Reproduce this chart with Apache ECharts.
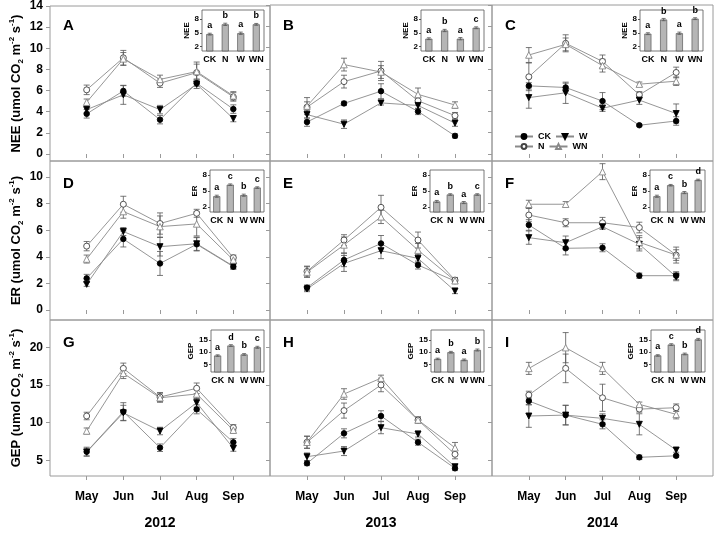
<!DOCTYPE html>
<html><head><meta charset="utf-8">
<script src="https://cdn.jsdelivr.net/npm/echarts@6/dist/echarts.min.js"></script>
<style>html,body{margin:0;padding:0;background:#fff}#c{width:714px;height:533px}</style>
</head><body><div id="c"></div>
<script>
const months = ['May','Jun','Jul','Aug','Sep'];
const years = ['2012','2013','2014'];
const treatments = ['CK','N','W','WN'];
const panelLetters = ['A','B','C','D','E','F','G','H','I'];
const variables = ['NEE','ER','GEP'];
const yTickValues = [[0,2,4,6,8,10,12,14],[0,2,4,6,8,10],[5,10,15,20]];
const insetTickValues = [[2,5,8],[2,5,8],[5,10,15]];

// monthly means, order: CK, N, W, WN
const nee2012 = [[3.8,5.97,3.25,6.7,4.25],[6.07,9.1,6.7,7.7,5.4],[4.2,5.6,4.2,6.6,3.35],[4.9,9.0,7.06,7.8,5.5]];
const nee2012Err = [[0.4,0.5,0.4,0.3,0.4],[0.45,0.7,0.4,1.0,0.4],[0.3,0.9,0.4,0.4,0.3],[0.3,0.6,0.4,0.7,0.4]];
const nee2013 = [[3.0,4.75,5.9,4.0,1.7],[4.4,6.8,7.8,5.0,3.6],[3.7,2.8,4.8,4.56,2.9],[4.5,8.4,7.7,5.6,4.6]];
const nee2013Err = [[0.4,0.2,0.7,0.3,0.2],[0.5,0.6,0.9,0.4,0.3],[0.4,0.4,0.2,0.3,0.3],[0.8,0.6,0.6,0.6,0.3]];
const nee2014 = [[6.4,6.25,4.97,2.7,3.1],[7.25,10.4,8.7,5.56,7.66],[5.3,5.75,4.3,5.06,3.8],[9.3,10.3,8.3,6.56,6.84]];
const nee2014Err = [[0.3,0.4,0.8,0.1,0.4],[1.3,0.8,0.6,0.3,0.5],[1.0,1.0,0.3,0.4,0.9],[0.7,0.6,0.6,0.2,0.4]];

const er2012 = [[2.38,5.34,3.5,4.94,3.26],[4.8,7.95,6.5,7.27,3.93],[1.93,5.9,4.76,4.98,3.3],[3.83,7.4,6.27,6.47,3.76]];
const er2012Err = [[0.3,0.6,0.9,0.5,0.2],[0.35,0.6,0.8,0.3,0.2],[0.15,0.3,0.7,0.5,0.2],[0.3,0.5,0.8,0.9,0.2]];
const er2013 = [[1.68,3.76,5.0,3.38,2.18],[2.9,5.26,7.72,5.26,2.25],[1.58,3.5,4.46,3.88,1.43],[2.85,4.89,7.0,4.5,2.2]];
const er2013Err = [[0.2,0.5,0.6,0.3,0.2],[0.4,0.4,0.9,0.6,0.2],[0.2,0.6,0.6,0.3,0.2],[0.4,0.6,0.5,0.5,0.2]];
const er2014 = [[6.39,4.64,4.68,2.58,2.58],[7.14,6.56,6.56,6.2,4.13],[5.44,5.06,6.26,4.94,2.5],[7.95,7.95,10.4,5.09,4.13]];
const er2014Err = [[0.4,0.5,0.3,0.2,0.3],[0.5,0.3,0.4,0.4,0.6],[0.5,0.5,0.2,0.5,0.3],[0.3,0.2,0.6,0.5,0.4]];

const gep2012 = [[6.14,11.45,6.67,11.77,7.4],[10.88,17.2,13.4,14.56,9.33],[6.1,11.3,8.89,12.65,6.6],[8.89,16.55,13.3,13.8,9.0]];
const gep2012Err = [[0.6,1.2,0.5,0.6,0.5],[0.5,0.7,0.6,0.7,0.4],[0.5,1.0,0.5,0.6,0.4],[0.4,0.7,0.6,0.6,0.4]];
const gep2013 = [[4.6,8.58,10.88,7.4,3.94],[7.4,11.6,15.0,10.35,5.8],[5.48,6.23,9.33,8.49,4.15],[7.4,13.8,15.9,10.35,6.67]];
const gep2013Err = [[0.3,0.6,0.7,0.4,0.3],[0.8,1.0,0.9,0.4,0.6],[0.5,0.6,0.8,0.4,0.3],[0.8,0.7,0.4,0.4,0.7]];
const gep2014 = [[12.87,11.0,9.78,5.4,5.6],[13.67,17.2,13.3,11.8,11.98],[10.88,11.0,10.57,9.78,6.37],[17.2,19.95,17.2,12.43,11.1]];
const gep2014Err = [[0.5,1.3,0.6,0.3,0.2],[0.5,1.9,1.8,0.4,0.5],[1.5,1.3,0.6,1.4,0.3],[0.8,2.0,0.8,0.3,0.6]];

// seasonal means for insets (CK, N, W, WN)
const neeBar2012 = [4.7,6.85,4.9,6.85], neeLetters2012 = ['a','b','a','b'];
const neeBar2013 = [3.7,5.5,3.7,6.1],   neeLetters2013 = ['a','b','a','c'];
const neeBar2014 = [4.8,7.9,4.9,8.1],   neeLetters2014 = ['a','b','a','b'];
const erBar2012 = [4.0,6.2,4.2,5.65],   erLetters2012 = ['a','c','b','c'];
const erBar2013 = [3.0,4.33,2.8,4.33],  erLetters2013 = ['a','b','a','c'];
const erBar2014 = [4.0,6.1,4.7,7.1],    erLetters2014 = ['a','c','b','d'];
const gepBar2012 = [8.65,12.7,9.1,12.0], gepLetters2012 = ['a','d','b','c'];
const gepBar2013 = [7.3,10.0,6.9,10.9],  gepLetters2013 = ['a','b','a','b'];
const gepBar2014 = [8.7,13.1,9.3,15.2],  gepLetters2014 = ['a','c','b','d'];
const neeBarErr = [0.2,0.25,0.25,0.2], erBarErr = [0.2,0.15,0.2,0.15], gepBarErr = [0.3,0.35,0.35,0.4];

const panelMeans = [nee2012,nee2013,nee2014,er2012,er2013,er2014,gep2012,gep2013,gep2014];
const panelErrs = [nee2012Err,nee2013Err,nee2014Err,er2012Err,er2013Err,er2014Err,gep2012Err,gep2013Err,gep2014Err];
const insetBars = [neeBar2012,neeBar2013,neeBar2014,erBar2012,erBar2013,erBar2014,gepBar2012,gepBar2013,gepBar2014];
const insetLetters = [neeLetters2012,neeLetters2013,neeLetters2014,erLetters2012,erLetters2013,erLetters2014,gepLetters2012,gepLetters2013,gepLetters2014];
const insetErrs = [neeBarErr,neeBarErr,neeBarErr,erBarErr,erBarErr,erBarErr,gepBarErr,gepBarErr,gepBarErr];

// ---- layout ----
const FONT = '"Liberation Sans", Arial, sans-serif';
const colLeft = [50, 270, 492], colWidth = [220, 222, 221];
const rowTop = [5, 161, 320], rowHeight = [156, 159, 156];
const yMin = [-0.66, -0.75, 2.92], yMax = [14, 11.2, 23.62];
const insetMin = [1, 1, 2], insetMax = [10, 9, 19];
const insetBoxes = [
  [202,10,62,41],[421,10,63,41],[640,10,63,41],
  [210,170,54,42],[430,170,54,42],[650,170,55,42],
  [211,330,53,42],[431,330,53,42],[651,330,54,42]];
const sty = {
  CK: {symbol:'circle', size:5.5, color:'#000', border:'#000', rotate:0},
  N:  {symbol:'circle', size:6, color:'#fff', border:'#444', rotate:0},
  W:  {symbol:'triangle', size:6, color:'#000', border:'#000', rotate:180},
  WN: {symbol:'triangle', size:6.5, color:'#fff', border:'#888', rotate:0}
};
const frameColor = '#9a9a9a';

function errRender(params, api) {
  const x = api.value(0), y = api.value(1), e = api.value(2);
  const t = api.coord([x, y + e]), b = api.coord([x, y - e]);
  const w = params.seriesName === 'barerr' ? 2 : 3;
  const st = {stroke: '#555', lineWidth: 0.8};
  return {type: 'group', children: [
    {type:'line', shape:{x1:t[0], y1:t[1], x2:b[0], y2:b[1]}, style: st},
    {type:'line', shape:{x1:t[0]-w, y1:t[1], x2:t[0]+w, y2:t[1]}, style: st},
    {type:'line', shape:{x1:b[0]-w, y1:b[1], x2:b[0]+w, y2:b[1]}, style: st}
  ]};
}

const gridMain = [], gridInset = [], xMain = [], xInset = [], yMain = [], yInset = [];
const series = [], graphic = [];
const yName = v => '{m|' + v + ' (umol CO}{sub|2}{m| m}{sup|-2}{m| s}{sup|-1}{m|)}';

for (let r = 0; r < 3; r++) {
  for (let c = 0; c < 3; c++) {
    const i = r * 3 + c;
    gridMain.push({left: colLeft[c], top: rowTop[r], width: colWidth[c], height: rowHeight[r],
      show: true, borderColor: frameColor, borderWidth: 1, containLabel: false});
    xMain.push({type: 'value', gridIndex: i, min: 0, max: 6,
      axisLine: {show: false}, splitLine: {show: false},
      axisTick: {show: true, customValues: [1,2,3,4,5], length: 4, lineStyle: {color: frameColor}},
      axisLabel: {show: r === 2, customValues: [1,2,3,4,5], formatter: v => months[v - 1] || '',
        margin: 15, fontFamily: FONT, fontWeight: 'bold', fontSize: 12, color: '#000'},
      name: r === 2 ? years[c] : '', nameLocation: 'middle', nameGap: 40,
      nameTextStyle: {fontFamily: FONT, fontWeight: 'bold', fontSize: 14, color: '#000'}});
    yMain.push({type: 'value', gridIndex: i, min: yMin[r], max: yMax[r],
      axisLine: {show: false}, splitLine: {show: false},
      axisTick: {show: true, customValues: yTickValues[r], length: 4, lineStyle: {color: frameColor}},
      axisLabel: {show: c === 0, customValues: yTickValues[r], margin: 7,
        fontFamily: FONT, fontWeight: 'bold', fontSize: 12, color: '#000'},
      name: c === 0 ? yName(variables[r]) : '', nameLocation: 'middle', nameGap: 25,
      nameTextStyle: {fontFamily: FONT, fontWeight: 'bold', color: '#000',
        rich: {m: {fontSize: 13, fontWeight: 'bold', fontFamily: FONT, lineHeight: 17, color:'#000'},
               sub: {fontSize: 8, fontWeight: 'bold', fontFamily: FONT, verticalAlign: 'bottom', lineHeight: 9, color:'#000'},
               sup: {fontSize: 8, fontWeight: 'bold', fontFamily: FONT, verticalAlign: 'top', lineHeight: 9, color:'#000'}}}});
    const means = panelMeans[i], errs = panelErrs[i];
    const errData = [];
    treatments.forEach((t, k) => {
      const s = sty[t];
      series.push({type: 'line', name: t, xAxisIndex: i, yAxisIndex: i,
        data: means[k].map((v, m) => [m + 1, v]),
        symbol: s.symbol, symbolSize: s.size, symbolRotate: s.rotate, showAllSymbol: true,
        lineStyle: {color: '#8a8a8a', width: 0.9},
        itemStyle: {color: s.color, borderColor: s.border, borderWidth: 0.9},
        z: 3, animation: false});
      means[k].forEach((v, m) => errData.push([m + 1, v, errs[k][m]]));
    });
    series.push({type: 'custom', name: 'err', xAxisIndex: i, yAxisIndex: i,
      renderItem: errRender, data: errData, z: 2, animation: false, silent: true});

    // inset
    const b = insetBoxes[i], gi = 9 + i;
    gridInset.push({left: b[0], top: b[1], width: b[2], height: b[3], show: true,
      borderColor: '#555', borderWidth: 0.8, backgroundColor: '#fff', z: 5});
    xInset.push({type: 'category', gridIndex: gi, data: treatments, z: 5,
      axisLine: {show: false}, axisTick: {show: false},
      axisLabel: {interval: 0, margin: 4, fontFamily: FONT, fontWeight: 'bold', fontSize: 9, color: '#000'}});
    yInset.push({type: 'value', gridIndex: gi, min: insetMin[r], max: insetMax[r], z: 5,
      axisLine: {show: false}, splitLine: {show: false},
      axisTick: {show: true, customValues: insetTickValues[r], length: 2, lineStyle: {color: '#555'}},
      axisLabel: {customValues: insetTickValues[r], margin: 3, fontFamily: FONT, fontWeight: 'bold', fontSize: 8, color: '#000'},
      name: variables[r], nameLocation: 'middle', nameGap: r === 2 ? 14 : 10,
      nameTextStyle: {fontFamily: FONT, fontWeight: 'bold', fontSize: 8, color: '#000'}});
    const letters = insetLetters[i];
    series.push({type: 'bar', name: 'bar', xAxisIndex: gi, yAxisIndex: gi, data: insetBars[i],
      barWidth: 7, itemStyle: {color: '#b5b5b5', borderColor: '#444', borderWidth: 0.6},
      label: {show: true, position: 'top', distance: 4, formatter: p => letters[p.dataIndex],
        fontFamily: FONT, fontWeight: 'bold', fontSize: 9, color: '#000'},
      z: 6, animation: false, silent: true});
    series.push({type: 'custom', name: 'barerr', xAxisIndex: gi, yAxisIndex: gi,
      renderItem: errRender, data: insetBars[i].map((v, k) => [k, v, insetErrs[i][k]]),
      z: 7, animation: false, silent: true});

    graphic.push({type: 'text', left: colLeft[c] + 13, top: rowTop[r] + 13 + (r > 0 ? 2 : 0), z: 10,
      style: {text: panelLetters[i], fontFamily: FONT, fontWeight: 'bold', fontSize: 15, fill: '#000'}});
  }
}

const legendText = {fontFamily: FONT, fontWeight: 'bold', fontSize: 9, color: '#000', width: 16};
const option = {
  animation: false,
  backgroundColor: '#fff',
  grid: gridMain.concat(gridInset),
  xAxis: xMain.concat(xInset),
  yAxis: yMain.concat(yInset),
  series, graphic,
  legend: [
    {data: ['CK', 'W'], left: 509, top: 127, itemWidth: 18, itemHeight: 6, itemGap: 4,
      textStyle: legendText, selectedMode: false},
    {data: ['N', 'WN'], left: 509, top: 137, itemWidth: 18, itemHeight: 6, itemGap: 4,
      textStyle: legendText, selectedMode: false}
  ]
};
const chart = echarts.init(document.getElementById('c'));
chart.setOption(option);
</script></body></html>
